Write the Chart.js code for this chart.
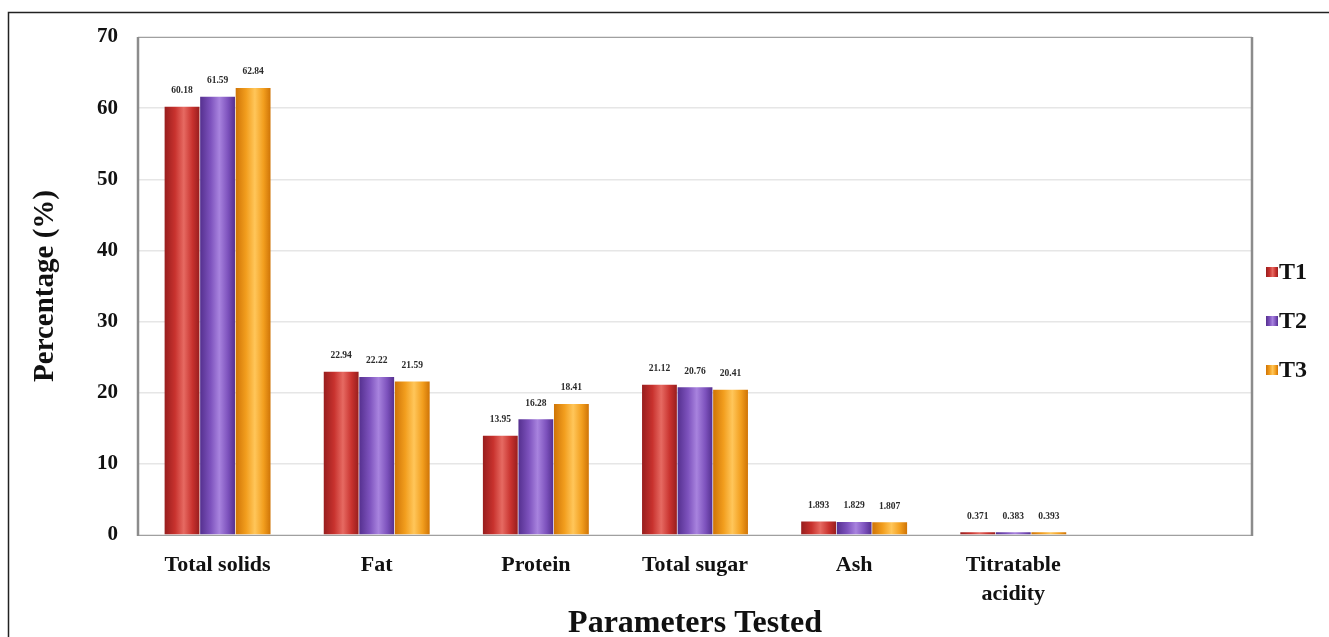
<!DOCTYPE html>
<html>
<head>
<meta charset="utf-8">
<script src="https://cdn.jsdelivr.net/npm/chart.js@4/dist/chart.umd.min.js"></script>
<style>
  html, body { margin: 0; padding: 0; background: #ffffff; }
  #wrap { position: relative; width: 1329px; height: 637px; }
</style>
</head>
<body>
<div id="wrap"><canvas id="chart" width="1329" height="637"></canvas></div>
<script>
// Composition parameters and the three treatments
const categories = ['Total solids', 'Fat', 'Protein', 'Total sugar', 'Ash', ['Titratable', 'acidity'], ''];
const seriesNames = ['T1', 'T2', 'T3'];
const t1Values = [60.18, 22.94, 13.95, 21.12, 1.893, 0.371, null];
const t2Values = [61.59, 22.22, 16.28, 20.76, 1.829, 0.383, null];
const t3Values = [62.84, 21.59, 18.41, 20.41, 1.807, 0.393, null];
const yTicks = [0, 10, 20, 30, 40, 50, 60, 70];

// Colour ramps for the rounded bar look: edge, mid, highlight
const palettes = [
  { edge: '#981e1e', mid: '#c8322e', light: '#e66a62' },
  { edge: '#55308f', mid: '#7d52bd', light: '#a883de' },
  { edge: '#cf7406', mid: '#f29e1e', light: '#ffc65a' }
];

const serif = '"Liberation Serif", "DejaVu Serif", serif';

function cylinderGradient(ctx, x0, x1, p) {
  const g = ctx.createLinearGradient(x0, 0, x1, 0);
  g.addColorStop(0, p.edge);
  g.addColorStop(0.3, p.mid);
  g.addColorStop(0.55, p.light);
  g.addColorStop(0.8, p.mid);
  g.addColorStop(1, p.edge);
  return g;
}

// Paint the bars with a horizontal shading once their geometry is known
const shadingPlugin = {
  id: 'shading',
  beforeDatasetsDraw(chart) {
    const ctx = chart.ctx;
    chart.data.datasets.forEach((ds, di) => {
      chart.getDatasetMeta(di).data.forEach(el => {
        if (el.x == null || isNaN(el.x)) return;
        el.options.backgroundColor = cylinderGradient(ctx, el.x - el.width / 2, el.x + el.width / 2, palettes[di]);
      });
    });
  }
};

// Value labels above each bar
const valueLabelPlugin = {
  id: 'valueLabels',
  afterDatasetsDraw(chart) {
    const ctx = chart.ctx;
    ctx.save();
    ctx.font = 'bold 9.5px ' + serif;
    ctx.fillStyle = '#2a2a2a';
    ctx.textAlign = 'center';
    ctx.textBaseline = 'middle';
    chart.data.datasets.forEach((ds, di) => {
      chart.getDatasetMeta(di).data.forEach((el, i) => {
        const v = ds.data[i];
        if (v == null) return;
        ctx.fillText(String(v), el.x, el.y - 16);
      });
    });
    ctx.restore();
  }
};

// Outer frame, plot box and right-hand legend
const framePlugin = {
  id: 'frame',
  beforeDraw(chart) {
    const ctx = chart.ctx;
    ctx.save();
    ctx.fillStyle = '#ffffff';
    ctx.fillRect(0, 0, chart.width, chart.height);
    ctx.restore();
  },
  afterDraw(chart) {
    const ctx = chart.ctx;
    const a = chart.chartArea;
    ctx.save();
    ctx.strokeStyle = '#222222';
    ctx.lineWidth = 1.5;
    ctx.strokeRect(8.5, 12.5, 1340, 660);
    ctx.strokeStyle = '#a0a0a0';
    ctx.lineWidth = 1;
    ctx.strokeRect(Math.round(a.left) + 0.5, Math.round(a.top) + 0.5, Math.round(a.right - a.left), Math.round(a.bottom - a.top));
    ctx.strokeStyle = '#8c8c8c';
    ctx.lineWidth = 2.5;
    ctx.beginPath();
    ctx.moveTo(a.left, a.top);
    ctx.lineTo(a.left, a.bottom + 1);
    ctx.moveTo(a.right, a.top);
    ctx.lineTo(a.right, a.bottom + 1);
    ctx.stroke();

    // legend
    ctx.font = 'bold 24px ' + serif;
    ctx.textBaseline = 'middle';
    ctx.textAlign = 'left';
    chart.data.datasets.forEach((ds, di) => {
      const y = 272 + di * 49;
      const bx = 1266;
      ctx.fillStyle = cylinderGradient(ctx, bx, bx + 12, palettes[di]);
      ctx.fillRect(bx, y - 5, 12, 10);
      ctx.fillStyle = '#111111';
      ctx.fillText(ds.label, bx + 13, y + 1);
    });
    ctx.restore();
  }
};

const datasets = [t1Values, t2Values, t3Values].map((vals, i) => ({
  label: seriesNames[i],
  data: vals,
  backgroundColor: () => palettes[i].mid,
  borderWidth: 0,
  categoryPercentage: 0.67,
  barPercentage: 0.98
}));

new Chart(document.getElementById('chart'), {
  type: 'bar',
  data: { labels: categories, datasets },
  options: {
    responsive: false,
    animation: false,
    devicePixelRatio: 1,
    layout: { padding: { left: 0, right: 77, top: 37, bottom: 0 } },
    plugins: {
      legend: { display: false },
      tooltip: { enabled: false }
    },
    scales: {
      x: {
        grid: { display: false, drawTicks: false },
        border: { display: false },
        ticks: {
          padding: 15,
          color: '#111111',
          font: { family: serif, size: 22, weight: 'bold', lineHeight: 1.35 },
          maxRotation: 0,
          autoSkip: false
        },
        title: {
          display: true,
          text: 'Parameters Tested',
          color: '#111111',
          font: { family: serif, size: 32, weight: 'bold', lineHeight: 0.85 },
          padding: { top: 0, bottom: 0 }
        },
        afterFit(scale) { scale.height = 102; }
      },
      y: {
        min: 0,
        max: 70,
        afterBuildTicks(scale) { scale.ticks = yTicks.map(v => ({ value: v })); },
        grid: { color: '#e6e6e6', lineWidth: 1.5, drawTicks: false },
        border: { display: false },
        ticks: {
          padding: 20,
          color: '#111111',
          font: { family: serif, size: 21, weight: 'bold' }
        },
        title: {
          display: true,
          text: 'Percentage (%)',
          color: '#111111',
          font: { family: serif, size: 29, weight: 'bold', lineHeight: 1.0 },
          padding: { top: 31, bottom: 0 }
        },
        afterFit(scale) { scale.width = 138; }
      }
    }
  },
  plugins: [framePlugin, shadingPlugin, valueLabelPlugin]
});
</script>
</body>
</html>
